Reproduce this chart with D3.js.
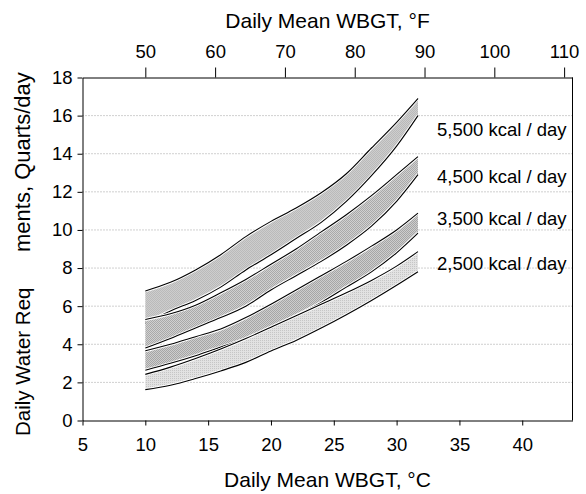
<!DOCTYPE html>
<html>
<head>
<meta charset="utf-8">
<script src="https://cdn.jsdelivr.net/npm/d3@7"></script>
<style>
    body { margin: 0; background: #fff; }
    text { font-family: "Liberation Sans", Arial, sans-serif; fill: #000; }
</style>
</head>
<body>
<div id="chart"></div>
<script>
// Daily mean WBGT, degrees C (shared x values of every band edge)
const wbgtC = [10, 12, 14, 16, 18, 20, 22, 24, 26, 28, 30, 31.7];

// Water requirement bands, quarts/day (lower and upper edge of each band)
const low5500 = [5.1, 5.75, 6.3, 7.0, 7.9, 8.7, 9.55, 10.4, 11.5, 12.85, 14.4, 16.0];
const high5500 = [6.8, 7.25, 7.9, 8.7, 9.65, 10.45, 11.15, 11.95, 12.95, 14.3, 15.65, 16.9];
const low4500 = [3.8, 4.3, 4.85, 5.4, 6.0, 6.85, 7.6, 8.35, 9.2, 10.2, 11.5, 12.9];
const high4500 = [5.3, 5.6, 6.05, 6.7, 7.4, 8.2, 9.0, 9.9, 10.8, 11.8, 12.9, 13.85];
const low3500 = [2.64, 3.0, 3.4, 3.85, 4.3, 4.85, 5.5, 6.2, 7.0, 7.8, 8.8, 9.83];
const high3500 = [3.66, 4.0, 4.4, 4.8, 5.4, 6.1, 6.85, 7.6, 8.35, 9.15, 10.0, 10.88];
const low2500 = [1.62, 1.85, 2.2, 2.6, 3.05, 3.65, 4.2, 4.85, 5.55, 6.3, 7.1, 7.81];
const high2500 = [2.42, 2.8, 3.25, 3.75, 4.3, 4.9, 5.5, 6.1, 6.7, 7.35, 8.1, 8.86];

const bandNames = ['5,500 kcal / day', '4,500 kcal / day', '3,500 kcal / day', '2,500 kcal / day'];

// Axis ticks
const xTicksC = [5, 10, 15, 20, 25, 30, 35, 40];
const xTicksF = [50, 60, 70, 80, 90, 100, 110];
const yTicks = [0, 2, 4, 6, 8, 10, 12, 14, 16, 18];
const gridTicks = [2, 4, 6, 8, 10, 12, 14, 16];

const width = 586;
const height = 494;
const margin = { top: 77.5, right: 13.5, bottom: 73.5, left: 82.5 };

const bands = [
    { name: bandNames[0], low: low5500, high: high5500, fill: 'url(#p5500)', labelAt: 14.95 },
    { name: bandNames[1], low: low4500, high: high4500, fill: 'url(#p4500)', labelAt: 12.47 },
    { name: bandNames[2], low: low3500, high: high3500, fill: 'url(#p3500)', labelAt: 10.27 },
    { name: bandNames[3], low: low2500, high: high2500, fill: 'url(#p2500)', labelAt: 7.9 }
];

const svg = d3.select('#chart').append('svg').attr('width', width).attr('height', height);

// dithered grey fills, like the original print
const defs = svg.append('defs');
function makePattern(id, base, dot, checker) {
    const p = defs.append('pattern').attr('id', id).attr('width', 2).attr('height', 2)
        .attr('patternUnits', 'userSpaceOnUse');
    p.append('rect').attr('width', 2).attr('height', 2).attr('fill', base);
    p.append('rect').attr('width', 1).attr('height', 1).attr('fill', dot);
    if (checker) {
        p.append('rect').attr('x', 1).attr('y', 1).attr('width', 1).attr('height', 1).attr('fill', dot);
    }
}
makePattern('p5500', '#cdcdcd', '#bababa', true);
makePattern('p4500', '#d0d0d0', '#a9a9a9', true);
makePattern('p3500', '#cdcdcd', '#a6a6a6', true);
makePattern('p2500', '#e2e2e2', '#c6c6c6', false);

const x = d3.scaleLinear().domain([5, 44]).range([margin.left, width - margin.right]);
const y = d3.scaleLinear().domain([0, 18]).range([height - margin.bottom, margin.top]);
// Fahrenheit scale on top, matched to the Celsius one
const xF = d3.scaleLinear().domain([5 * 9 / 5 + 32, 44 * 9 / 5 + 32]).range(x.range());

// dotted grid lines
svg.append('g')
    .selectAll('line')
    .data(gridTicks)
    .join('line')
    .attr('x1', x.range()[0])
    .attr('x2', x.range()[1])
    .attr('y1', (d) => y(d))
    .attr('y2', (d) => y(d))
    .attr('stroke', '#a0a0a0')
    .attr('stroke-dasharray', '1,2');

// bands
const area = d3.area()
    .x((d) => x(d.c))
    .y0((d) => y(d.lo))
    .y1((d) => y(d.hi))
    .curve(d3.curveMonotoneX);
const line = d3.line().x((d) => x(d[0])).y((d) => y(d[1])).curve(d3.curveMonotoneX);

for (const band of bands) {
    const rows = wbgtC.map((c, i) => ({ c, lo: band.low[i], hi: band.high[i] }));
    const g = svg.append('g');
    g.append('path').attr('d', area(rows)).attr('fill', band.fill);
    for (const edge of [band.low, band.high]) {
        const pts = wbgtC.map((c, i) => [c, edge[i]]);
        g.append('path').attr('d', line(pts)).attr('fill', 'none')
            .attr('stroke', '#fff').attr('stroke-width', 3);
        g.append('path').attr('d', line(pts)).attr('fill', 'none')
            .attr('stroke', '#000').attr('stroke-width', 1.1);
    }
}

// band labels
svg.append('g')
    .selectAll('text')
    .data(bands)
    .join('text')
    .attr('x', 437)
    .attr('y', (d) => y(d.labelAt))
    .attr('font-size', 18.5)
    .text((d) => d.name);

// axes
const bottomAxis = svg.append('g')
    .attr('transform', `translate(0, ${height - margin.bottom})`)
    .call(d3.axisBottom(x).tickValues(xTicksC).tickSize(5).tickSizeOuter(0).tickPadding(12));
const leftAxis = svg.append('g')
    .attr('transform', `translate(${margin.left}, 0)`)
    .call(d3.axisLeft(y).tickValues(yTicks).tickSize(5).tickSizeOuter(0).tickPadding(5));
const topAxis = svg.append('g')
    .attr('transform', `translate(0, ${margin.top})`)
    .call(d3.axisTop(xF).tickValues(xTicksF).tickSize(10).tickSizeOuter(0).tickPadding(10));

for (const ax of [bottomAxis, leftAxis, topAxis]) {
    ax.attr('font-size', 18.5).attr('font-family', '"Liberation Sans", Arial, sans-serif');
    ax.selectAll('line, path').attr('stroke', '#000');
}

// right border
svg.append('line')
    .attr('x1', x.range()[1]).attr('x2', x.range()[1])
    .attr('y1', y.range()[0]).attr('y2', y.range()[1])
    .attr('stroke', '#000');

// axis titles
svg.append('text')
    .attr('x', (x.range()[0] + x.range()[1]) / 2)
    .attr('y', 487)
    .attr('text-anchor', 'middle')
    .attr('font-size', 21)
    .text('Daily Mean WBGT, °C');
svg.append('text')
    .attr('x', (x.range()[0] + x.range()[1]) / 2)
    .attr('y', 28)
    .attr('text-anchor', 'middle')
    .attr('font-size', 21)
    .text('Daily Mean WBGT, °F');

// y title is partly hidden in the original
svg.append('text')
    .attr('transform', 'translate(30, 436) rotate(-90)')
    .attr('font-size', 20.5)
    .text('Daily Water Req');
svg.append('text')
    .attr('transform', 'translate(30, 252) rotate(-90)')
    .attr('font-size', 22)
    .text('ments, Quarts/day');
</script>
</body>
</html>
